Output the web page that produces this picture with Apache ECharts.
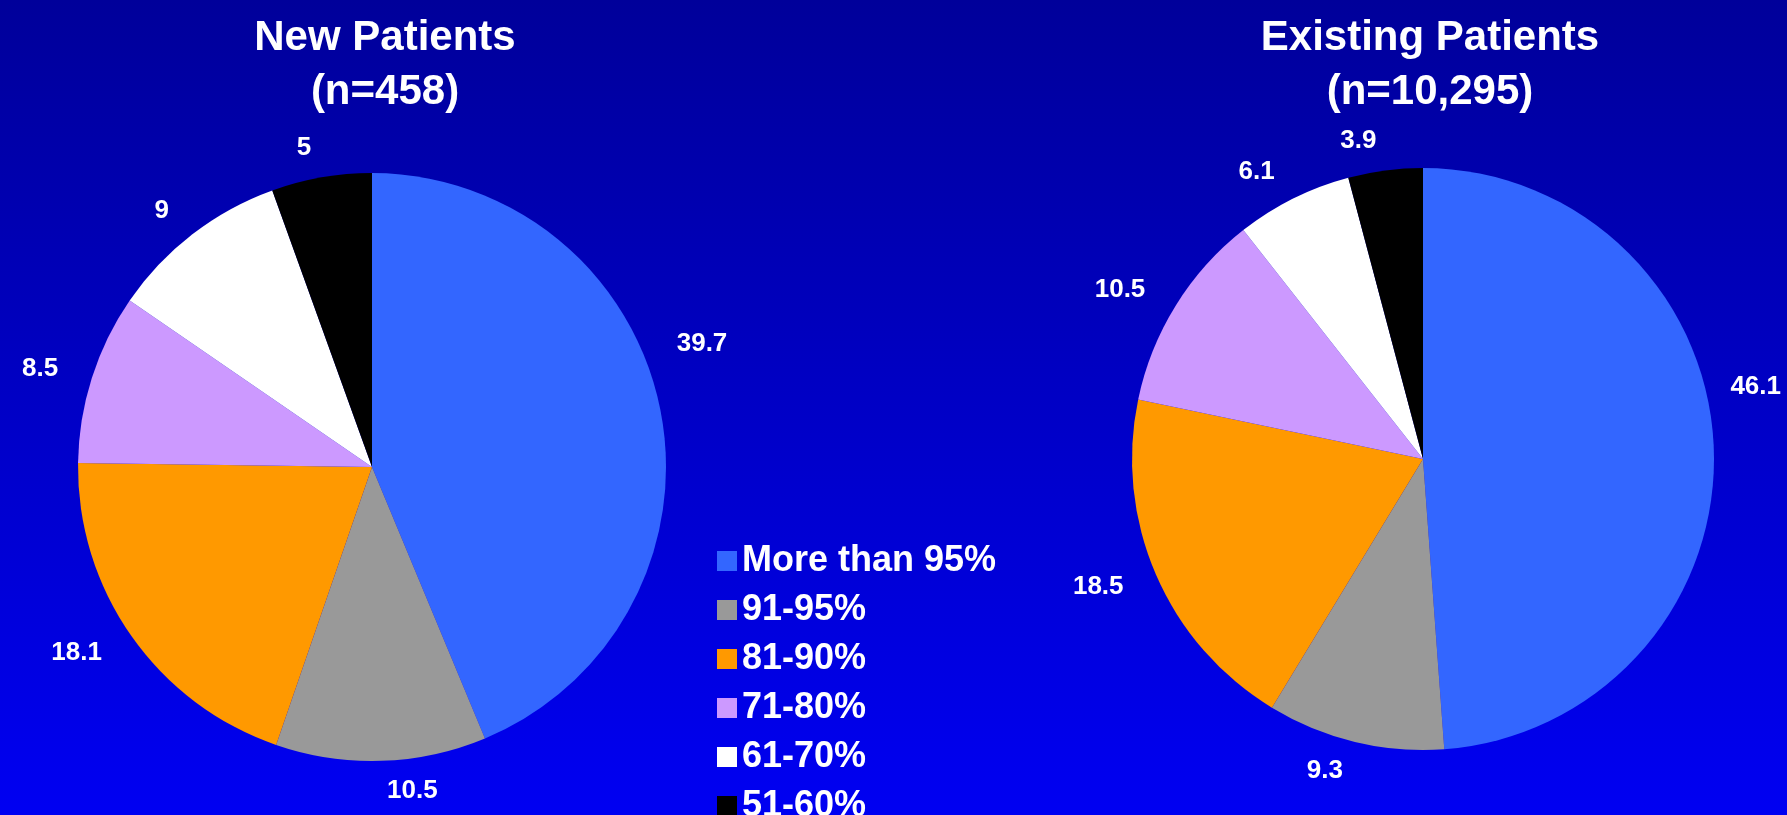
<!DOCTYPE html>
<html>
<head>
<meta charset="utf-8">
<script src="https://cdn.jsdelivr.net/npm/echarts@6/dist/echarts.min.js"></script>
<style>
  html, body { margin: 0; padding: 0; }
  #main { width: 1787px; height: 815px; }
</style>
</head>
<body>
<div id="main"></div>
<script>
// categories shared by both pies
const categories = ['More than 95%', '91-95%', '81-90%', '71-80%', '61-70%', '51-60%']
const colors = ['#3366FF', '#999999', '#FF9900', '#CC99FF', '#FFFFFF', '#000000']

const newPatients = [39.7, 10.5, 18.1, 8.5, 9, 5]
const existingPatients = [46.1, 9.3, 18.5, 10.5, 6.1, 3.9]

const titles = ['New Patients\n(n=458)', 'Existing Patients\n(n=10,295)']

const font = 'Liberation Sans, Arial, sans-serif'
const W = 1787

function toData(values) {
  return values.map((v, i) => ({ name: categories[i], value: v }))
}

function pieSeries(name, values, center, radius) {
  return {
    name,
    type: 'pie',
    center,
    radius,
    startAngle: 90,
    clockwise: true,
    avoidLabelOverlap: false,
    data: toData(values),
    itemStyle: { borderWidth: 0 },
    label: {
      show: true,
      position: 'outside',
      formatter: '{c}',
      color: '#FFFFFF',
      fontFamily: font,
      fontWeight: 'bold',
      fontSize: 26,
    },
    labelLine: { show: false, length: 30, length2: 0 },
    // right-hand labels sit a little higher, and all stay inside the canvas
    labelLayout(params) {
      const r = params.labelRect
      if (r.x + r.width / 2 < center[0] + radius * 0.6) return {}
      let x = r.x - 18
      if (x + r.width > W - 6) x = W - 6 - r.width
      return { x, y: r.y + r.height / 2 - 60 }
    },
    emphasis: { disabled: true },
  }
}

const chart = echarts.init(document.getElementById('main'))
chart.setOption({
  animation: false,
  backgroundColor: {
    type: 'linear', x: 0, y: 0, x2: 0, y2: 1,
    colorStops: [
      { offset: 0, color: '#00009A' },
      { offset: 1, color: '#0000F2' },
    ],
  },
  color: colors,
  title: [
    {
      text: titles[0],
      left: 380,
      top: 6,
      textAlign: 'center',
      textStyle: { color: '#FFFFFF', fontFamily: font, fontWeight: 'bold', fontSize: 42, lineHeight: 54 },
    },
    {
      text: titles[1],
      left: 1425,
      top: 6,
      textAlign: 'center',
      textStyle: { color: '#FFFFFF', fontFamily: font, fontWeight: 'bold', fontSize: 42, lineHeight: 54 },
    },
  ],
  legend: {
    orient: 'vertical',
    left: 712,
    top: 536,
    height: 330,
    itemWidth: 20,
    itemHeight: 20,
    itemGap: 9,
    icon: 'rect',
    selectedMode: false,
    data: categories,
    textStyle: { color: '#FFFFFF', fontFamily: font, fontWeight: 'bold', fontSize: 36, lineHeight: 40 },
  },
  series: [
    pieSeries('New Patients', newPatients, [372, 467], 294),
    pieSeries('Existing Patients', existingPatients, [1423, 459], 291),
  ],
})
</script>
</body>
</html>
